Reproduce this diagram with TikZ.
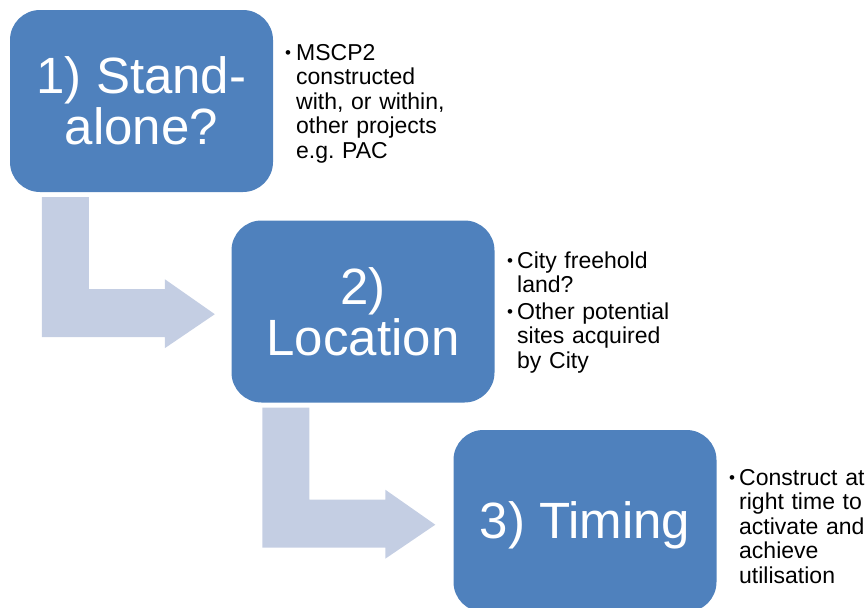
\documentclass[tikz,border=0pt]{standalone}
\usepackage{fontspec}
\setmainfont{Liberation Sans}
\usetikzlibrary{calc}
\definecolor{boxblue}{HTML}{4F81BD}
\definecolor{arrowblue}{HTML}{C4CEE3}
\frenchspacing
\begin{document}
\begin{tikzpicture}[x=1pt,y=-1pt,
  stepbox/.style={rounded corners=30pt, fill=boxblue, draw=none,
    minimum width=263pt, minimum height=182pt, inner sep=0pt,
    text=white, align=center, font=\fontsize{51}{51}\selectfont},
  note/.style={anchor=base west, inner sep=0pt, align=left,
    text width=200pt, font=\fontsize{23}{24.5}\selectfont},
  dot/.style={anchor=base west, inner sep=0pt, font=\fontsize{17}{17}\selectfont},
  bentarrow/.pic={
    \fill[arrowblue] (0,0) -- (47,0) -- (47,92) -- (123,92) -- (123,82)
      -- (173,117) -- (123,151) -- (123,140) -- (0,140) -- cycle;}
]
\useasboundingbox (0,0) rectangle (868,608);

% process steps
\node[stepbox] (s1) at (141.5,101) {1) Stand-\\alone?};
\node[stepbox] (s2) at (363,311.5) {2)\\Location};
\node[stepbox] (s3) at (585,521) {};
\node[text=white, inner sep=0pt, anchor=base,
  font=\fontsize{51}{51}\selectfont] (t3) at (585,538) {3) Timing};

% bent arrows leading from one step to the next
\pic at ($(s1.south west)+(32,5)$) {bentarrow};
\pic at ($(s2.south west)+(31,5)$) {bentarrow};

% notes beside each step
\node[dot] (b1) at (285,58) {\textbullet};
\node[note] (n1) at (296,60) {MSCP2\\constructed\\with, or within,\\other projects\\e.g. PAC};

\node[dot] (b2a) at (507,266) {\textbullet};
\node[note] (n2a) at (517,268) {City freehold\\land?};
\node[dot] (b2b) at (507,317) {\textbullet};
\node[note] (n2b) at (517,319) {Other potential\\sites acquired\\by City};

\node[dot] (b3) at (729,483) {\textbullet};
\node[note] (n3) at (739,485) {Construct at\\right time to\\activate and\\achieve\\utilisation};
\end{tikzpicture}
\end{document}
